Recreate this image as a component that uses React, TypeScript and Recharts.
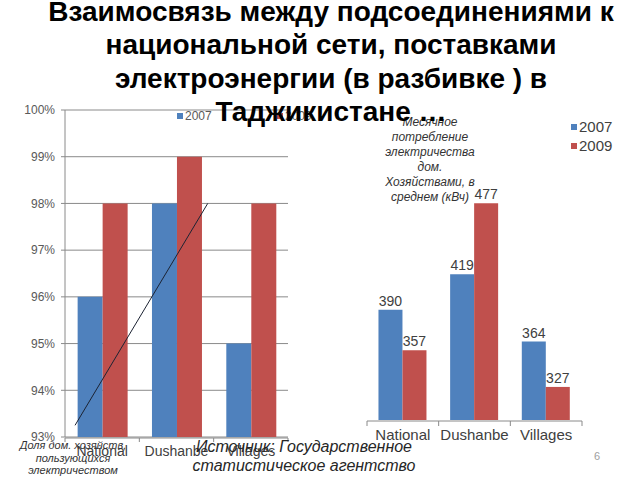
import React from "react";
import {
  Bar,
  BarChart,
  CartesianGrid,
  LabelList,
  Legend,
  ReferenceLine,
  XAxis,
  YAxis,
} from "recharts";

const categories = ["National", "Dushanbe", "Villages"];
const share2007 = [96, 98, 95];
const share2009 = [98, 99, 98];
const shareTicks = [93, 94, 95, 96, 97, 98, 99, 100];
const consumption2007 = [390, 419, 364];
const consumption2009 = [357, 477, 327];
// вспомогательная числовая ось 0..2 по ширине области построения
const bandTicks = [0, 2 / 3, 4 / 3, 2];
// стрелка-тренд поверх левой диаграммы (в единицах осей)
const trendFrom = { x: 0.09, y: 93.25 };
const trendTo = { x: 1.28, y: 98 };

const shareData = categories.map((name, i) => ({
  name,
  y2007: share2007[i],
  y2009: share2009[i],
}));
const consumptionData = categories.map((name, i) => ({
  name,
  y2007: consumption2007[i],
  y2009: consumption2009[i],
}));

const BLUE = "#4F81BD";
const RED = "#C0504D";
const GRID = "#8a8a8a";
const FONT = "'Liberation Sans', Arial, sans-serif";

function legendContent(opts: {
  fontSize: number;
  color: string;
  vertical: boolean;
  itemWidth: number;
  rowHeight: number;
}) {
  return (props: any) => {
    const items = (props.payload || []) as any[];
    return (
      <div
        style={{
          display: "flex",
          flexDirection: opts.vertical ? "column" : "row",
          fontFamily: FONT,
          fontSize: opts.fontSize,
          color: opts.color,
        }}
      >
        {items.map((item) => (
          <div
            key={item.value}
            style={{
              display: "flex",
              alignItems: "center",
              width: opts.itemWidth,
              height: opts.rowHeight,
            }}
          >
            <span
              style={{
                width: 6,
                height: 6,
                background: item.color,
                marginRight: 2,
              }}
            />
            <span>{item.value}</span>
          </div>
        ))}
      </div>
    );
  };
}

function ShareChart() {
  return (
    <BarChart
      width={640}
      height={480}
      data={shareData}
      margin={{ top: 110, right: 352, bottom: 41, left: 5 }}
      barCategoryGap="17%"
      barGap={0}
    >
      <CartesianGrid vertical={false} stroke={GRID} />
      <XAxis
        xAxisId="n"
        type="number"
        domain={[0, 2]}
        allowDataOverflow
        ticks={bandTicks}
        height={1}
        stroke={GRID}
        tickSize={4}
        tickFormatter={() => ""}
      />
      <XAxis
        dataKey="name"
        height={1}
        interval={0}
        axisLine={false}
        tickLine={false}
        tickMargin={3}
        tick={{ fill: "#404040", fontSize: 14, fontFamily: FONT }}
      />
      <YAxis
        width={60}
        domain={[93, 100]}
        ticks={shareTicks}
        tickFormatter={(v: number) => `${v}%`}
        stroke={GRID}
        tickSize={4}
        tickMargin={6}
        tick={{ fill: "#595959", fontSize: 12, fontFamily: FONT }}
      />
      <Legend
        layout="horizontal"
        align="center"
        verticalAlign="middle"
        wrapperStyle={{ top: 108, left: 177, width: 200 }}
        content={legendContent({
          fontSize: 12,
          color: "#595959",
          vertical: false,
          itemWidth: 133,
          rowHeight: 16,
        })}
      />
      <Bar dataKey="y2007" name="2007" fill={BLUE} isAnimationActive={false} />
      <Bar dataKey="y2009" name="2009" fill={RED} isAnimationActive={false} />
      <ReferenceLine
        xAxisId="n"
        segment={[trendFrom, trendTo]}
        stroke="#1c2333"
        strokeWidth={1}
        ifOverflow="visible"
      />
    </BarChart>
  );
}

function ConsumptionChart() {
  return (
    <BarChart
      width={640}
      height={480}
      data={consumptionData}
      margin={{ top: 175, right: 58, bottom: 58, left: 367 }}
      barCategoryGap="16%"
      barGap={0}
    >
      <XAxis
        xAxisId="n"
        type="number"
        domain={[0, 2]}
        allowDataOverflow
        ticks={bandTicks}
        height={1}
        stroke={GRID}
        tickSize={5}
        tickFormatter={() => ""}
      />
      <XAxis
        dataKey="name"
        height={1}
        interval={0}
        axisLine={false}
        tickLine={false}
        tickMargin={3}
        tick={{ fill: "#404040", fontSize: 15, fontFamily: FONT }}
      />
      <YAxis hide domain={[300, 500]} />
      <Legend
        layout="vertical"
        align="center"
        verticalAlign="middle"
        wrapperStyle={{ top: 117, left: 571, width: 60 }}
        content={legendContent({
          fontSize: 15,
          color: "#404040",
          vertical: true,
          itemWidth: 60,
          rowHeight: 19,
        })}
      />
      <Bar dataKey="y2007" name="2007" fill={BLUE} isAnimationActive={false}>
        <LabelList
          dataKey="y2007"
          position="top"
          offset={4}
          fill="#404040"
          fontSize={14}
          fontFamily={FONT}
        />
      </Bar>
      <Bar dataKey="y2009" name="2009" fill={RED} isAnimationActive={false}>
        <LabelList
          dataKey="y2009"
          position="top"
          offset={4}
          fill="#404040"
          fontSize={14}
          fontFamily={FONT}
        />
      </Bar>
    </BarChart>
  );
}

const abs: React.CSSProperties = { position: "absolute", left: 0, top: 0 };

export default function App() {
  return (
    <div
      style={{
        position: "absolute",
        left: 0,
        top: 0,
        width: 640,
        height: 480,
        background: "#ffffff",
        overflow: "hidden",
      }}
    >
      <div style={abs}>
        <ShareChart />
      </div>
      <div style={abs}>
        <ConsumptionChart />
      </div>

      <div
        style={{
          position: "absolute",
          left: 370,
          top: 115,
          width: 120,
          textAlign: "center",
          fontFamily: FONT,
          fontStyle: "italic",
          fontSize: 12,
          lineHeight: "15px",
          color: "#333333",
        }}
      >
        Месячное
        <br />
        потребление
        <br />
        электричества
        <br />
        дом.
        <br />
        Хозяйствами, в
        <br />
        среднем (кВч)
      </div>

      <div
        style={{
          position: "absolute",
          left: 13,
          top: 439,
          width: 120,
          textAlign: "center",
          fontFamily: FONT,
          fontStyle: "italic",
          fontSize: 11,
          lineHeight: "12.5px",
          color: "#333333",
        }}
      >
        Доля дом. хозяйств,
        <br />
        пользующихся
        <br />
        электричеством
      </div>

      <div
        style={{
          position: "absolute",
          left: 164,
          top: 437,
          width: 280,
          textAlign: "center",
          fontFamily: FONT,
          fontStyle: "italic",
          fontSize: 16,
          lineHeight: "19px",
          color: "#262626",
        }}
      >
        Источник: Государственное
        <br />
        статистическое агентство
      </div>

      <div
        style={{
          position: "absolute",
          left: 594,
          top: 450,
          fontFamily: FONT,
          fontSize: 11,
          color: "#a0a0a0",
        }}
      >
        6
      </div>

      <div
        style={{
          position: "absolute",
          left: 11,
          top: -5,
          width: 640,
          textAlign: "center",
          fontFamily: FONT,
          fontWeight: "bold",
          fontSize: 28,
          lineHeight: "33.3px",
          color: "#000000",
          whiteSpace: "nowrap",
        }}
      >
        Взаимосвязь между подсоединениями к
        <br />
        национальной сети, поставками
        <br />
        электроэнергии (в разбивке ) в
        <br />
        Таджикистане …
      </div>
    </div>
  );
}
